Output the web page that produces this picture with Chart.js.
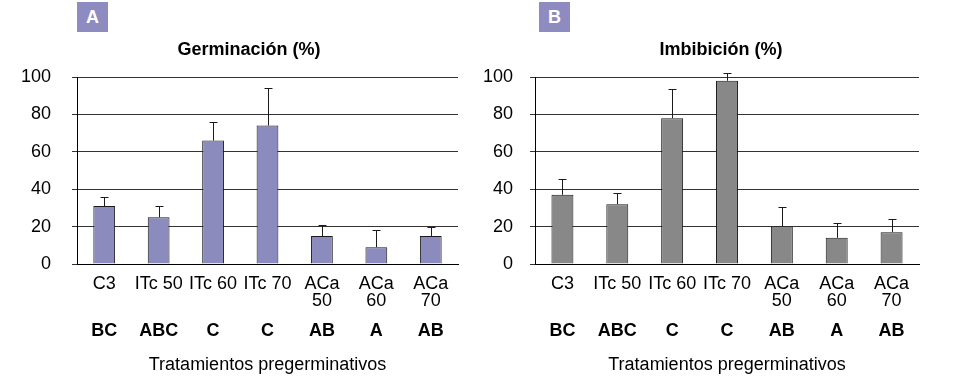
<!DOCTYPE html>
<html>
<head>
<meta charset="utf-8">
<script src="https://cdn.jsdelivr.net/npm/chart.js@4.4.1/dist/chart.umd.min.js"></script>
<style>
  body { margin: 0; background: #fff; font-family: "Liberation Sans", Arial, sans-serif; }
  #wrap { position: relative; width: 977px; height: 385px; overflow: hidden; }
  canvas { position: absolute; top: 0; }
  .badge { position: absolute; top: 2px; width: 31px; height: 30px; background: #8e8bc0;
           color: #fff; font-weight: bold; font-size: 18px; line-height: 30px; text-align: center; }
  .title { position: absolute; top: 40px; width: 300px; font-weight: bold; font-size: 18px;
           line-height: 18px; text-align: center; color: #000; }
</style>
</head>
<body>
<div id="wrap">
  <canvas id="chartA" width="480" height="385" style="left:0"></canvas>
  <canvas id="chartB" width="497" height="385" style="left:480px"></canvas>
  <div class="badge" style="left:77px">A</div>
  <div class="badge" style="left:539px">B</div>
  <div class="title" style="left:99px">Germinación (%)</div>
  <div class="title" style="left:571px">Imbibición (%)</div>
</div>
<script>
// data
const categories = ['C3', 'ITc 50', 'ITc 60', 'ITc 70', ['ACa', '50'], ['ACa', '60'], ['ACa', '70']];
const germination = [31, 25, 66, 74, 15, 9, 15];
const germinationErr = [5, 6, 10, 20, 6, 9, 5];
const germinationGroups = ['BC', 'ABC', 'C', 'C', 'AB', 'A', 'AB'];
const imbibition = [37, 32, 78, 98, 20, 14, 17];
const imbibitionErr = [8.5, 6, 15.5, 4, 10.5, 8, 7];
const imbibitionGroups = ['BC', 'ABC', 'C', 'C', 'AB', 'A', 'AB'];
const yTicks = [0, 20, 40, 60, 80, 100];
const xTitle = 'Tratamientos pregerminativos';

Chart.defaults.font.family = '"Liberation Sans", Arial, sans-serif';
Chart.defaults.color = '#000';

// upper error bars with a small cap
const errorBars = {
  id: 'errorBars',
  afterDatasetsDraw(chart, args, opts) {
    const ctx = chart.ctx;
    const y = chart.scales.y;
    const meta = chart.getDatasetMeta(0);
    ctx.save();
    ctx.strokeStyle = '#1a1a1a';
    ctx.lineWidth = 1;
    meta.data.forEach((bar, i) => {
      const x = Math.round(bar.x) + 0.5;
      const top = Math.round(y.getPixelForValue(opts.values[i] + opts.errors[i])) + 0.5;
      ctx.beginPath();
      ctx.moveTo(x, bar.y);
      ctx.lineTo(x, top);
      ctx.moveTo(x - 4, top);
      ctx.lineTo(x + 4, top);
      ctx.stroke();
    });
    ctx.restore();
  }
};

function makeChart(id, values, errors, groups, color, axisWidth, tickPad, rightPad) {
  return new Chart(document.getElementById(id), {
    type: 'bar',
    data: {
      labels: categories,
      datasets: [{
        data: values,
        backgroundColor: color,
        borderColor: '#1a1a1a',
        borderWidth: 1,
        barPercentage: 0.4,
        categoryPercentage: 1
      }]
    },
    options: {
      responsive: false,
      animation: false,
      layout: { padding: { top: 77, right: rightPad, left: 0, bottom: 0 } },
      plugins: {
        legend: { display: false },
        tooltip: { enabled: false },
        errorBars: { values: values, errors: errors }
      },
      scales: {
        x: {
          type: 'category',
          position: 'bottom',
          weight: 0,
          offset: true,
          grid: { display: false, drawTicks: false },
          border: { display: true, color: '#000' },
          ticks: { padding: 12, maxRotation: 0, autoSkip: false, font: { size: 18, lineHeight: '17px' } },
          afterFit: s => { s.height = 50; }
        },
        x2: {
          type: 'category',
          labels: groups,
          position: 'bottom',
          weight: 1,
          offset: true,
          grid: { display: false, drawTicks: false },
          border: { display: false },
          ticks: { padding: 6, maxRotation: 0, autoSkip: false, font: { size: 18, weight: 'bold' } },
          title: { display: true, text: xTitle, font: { size: 18 }, padding: { top: 0, bottom: 9 } },
          afterFit: s => { s.height = 71; }
        },
        y: {
          min: 0,
          max: 100,
          afterBuildTicks: s => { s.ticks = yTicks.map(v => ({ value: v })); },
          afterFit: s => { s.width = axisWidth; },
          grid: { color: '#333', tickLength: 5 },
          border: { color: '#000' },
          ticks: { padding: tickPad, font: { size: 18 } }
        }
      }
    },
    plugins: [errorBars]
  });
}

const chartA = makeChart('chartA', germination, germinationErr, germinationGroups, '#8b8bbd', 77, 21, 22);
const chartB = makeChart('chartB', imbibition, imbibitionErr, imbibitionGroups, '#888888', 55, 17, 58);
</script>
</body>
</html>
